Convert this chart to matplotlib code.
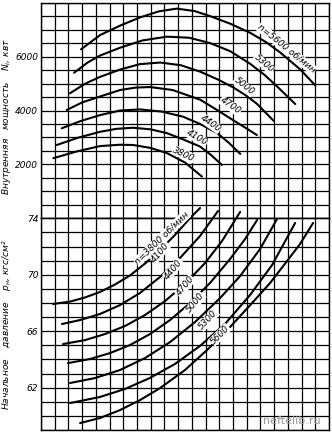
import numpy as np
import matplotlib.pyplot as plt

# x is in grid cells (no scale is printed on the original)
# --- internal power N_i, kW (upper chart)
pw_x_5600 = [2.92, 4.31, 5.77, 7.2, 8.6, 9.9, 11.2, 12.34, 13.8, 15.26, 16.4, 17.45, 18.91, 20.0]
pw_y_5600 = [6270, 6800, 7150, 7450, 7680, 7780, 7690, 7500, 7220, 6880, 6540, 6150, 5520, 4930]
pw_x_5300 = [2.41, 3.4, 4.31, 5.77, 7.4, 9.17, 10.8, 12.34, 13.8, 15.26, 16.3, 17.2, 18.54]
pw_y_5300 = [5400, 5780, 6040, 6330, 6600, 6740, 6700, 6500, 6200, 5730, 5320, 4900, 4240]
pw_x_5000 = [2.12, 3.2, 4.31, 5.77, 7.2, 8.69, 10.2, 11.61, 12.9, 14.04, 15.0, 15.74, 16.96]
pw_y_5000 = [4640, 4990, 5250, 5520, 5720, 5780, 5680, 5440, 5150, 4850, 4540, 4250, 3620]
pw_x_4700 = [1.88, 3.0, 4.31, 5.77, 6.9, 7.96, 9.6, 11.61, 12.9, 14.01, 15.0, 15.74]
pw_y_4700 = [4020, 4300, 4520, 4760, 4850, 4870, 4760, 4400, 4000, 3640, 3330, 3090]
pw_x_4400 = [1.51, 2.9, 4.31, 5.77, 7.23, 8.8, 10.36, 11.6, 12.82, 13.7, 14.53]
pw_y_4400 = [3340, 3610, 3830, 4000, 4040, 3960, 3770, 3500, 3170, 2800, 2390]
pw_x_4100 = [1.15, 2.7, 4.31, 5.5, 6.72, 8.0, 9.18, 10.4, 11.61, 12.4, 13.19]
pw_y_4100 = [2720, 2990, 3210, 3320, 3360, 3300, 3160, 2920, 2660, 2350, 1980]
pw_x_3800 = [0.9, 2.6, 4.31, 5.77, 6.72, 8.0, 9.18, 10.5, 11.73]
pw_y_3800 = [2230, 2480, 2680, 2730, 2720, 2610, 2420, 2070, 1550]

# --- initial pressure p_n, kgf/cm2 (lower chart)
pr_x_3800 = [0.88, 2.12, 3.21, 4.30, 5.40, 6.49, 7.59, 8.68, 9.77, 10.87, 11.60]
pr_y_3800 = [67.93, 68.10, 68.39, 68.78, 69.31, 69.95, 70.80, 71.75, 72.82, 74.02, 74.73]
pr_x_4100 = [1.53, 2.85, 4.30, 5.76, 7.22, 8.68, 10.14, 11.60, 12.91]
pr_y_4100 = [66.51, 66.79, 67.22, 67.85, 68.71, 69.84, 71.19, 72.75, 74.52]
pr_x_4400 = [1.61, 3.21, 4.67, 6.13, 7.59, 9.05, 10.50, 11.96, 13.20, 14.52]
pr_y_4400 = [65.09, 65.37, 65.80, 66.37, 67.15, 68.14, 69.35, 70.83, 72.39, 74.45]
pr_x_4700 = [1.97, 3.57, 5.03, 6.49, 7.95, 9.41, 10.87, 12.33, 13.79, 14.88, 15.76]
pr_y_4700 = [63.74, 64.03, 64.45, 65.02, 65.80, 66.79, 68.00, 69.42, 71.12, 72.53, 73.88]
pr_x_5000 = [2.12, 3.94, 5.76, 7.59, 9.41, 11.23, 13.06, 14.52, 15.97, 17.21]
pr_y_5000 = [62.33, 62.68, 63.25, 64.10, 65.23, 66.65, 68.35, 69.91, 71.82, 73.95]
pr_x_5300 = [2.12, 4.30, 6.13, 7.95, 9.77, 11.60, 13.42, 15.24, 16.85, 18.53]
pr_y_5300 = [60.91, 61.34, 61.91, 62.69, 63.68, 64.96, 66.52, 68.56, 70.69, 73.67]
pr_x_5600 = [2.85, 4.30, 5.76, 7.22, 8.68, 10.50, 12.11, 13.79, 15.46, 16.70, 17.94, 18.89, 19.84]
pr_y_5600 = [59.49, 59.85, 60.41, 61.12, 61.97, 63.25, 64.67, 66.30, 68.07, 69.41, 70.97, 72.18, 73.67]

power_curves = [(pw_x_5600, pw_y_5600), (pw_x_5300, pw_y_5300), (pw_x_5000, pw_y_5000),
                (pw_x_4700, pw_y_4700), (pw_x_4400, pw_y_4400), (pw_x_4100, pw_y_4100),
                (pw_x_3800, pw_y_3800)]
press_curves = [(pr_x_3800, pr_y_3800), (pr_x_4100, pr_y_4100), (pr_x_4400, pr_y_4400),
                (pr_x_4700, pr_y_4700), (pr_x_5000, pr_y_5000), (pr_x_5300, pr_y_5300),
                (pr_x_5600, pr_y_5600)]

# label text, x, y, rotation
power_labels = [("n=5600 об/мин", 17.9, 6300, -39), ("5300", 16.25, 5750, -40),
                ("5000", 14.8, 4900, -38), ("4700", 13.8, 4170, -35),
                ("4400", 12.35, 3520, -35), ("4100", 11.35, 3000, -30),
                ("3800", 10.4, 2380, -25)]
press_labels = [("n=3800 об/мин", 8.8, 72.6, 44), ("4100", 8.7, 71.6, 50),
                ("4400", 9.65, 70.4, 50), ("4700", 10.5, 69.2, 50),
                ("5000", 11.25, 68.0, 50), ("5300", 12.2, 66.8, 47),
                ("5600", 13.05, 65.75, 45)]

W, H = 332, 432
fig = plt.figure(figsize=(W / 100, H / 100), dpi=100)
left, right = 41 / W, 329 / W
ax_top = fig.add_axes([left, (H - 218.3) / H, right - left, (218.3 - 2.7) / H])
ax_bot = fig.add_axes([left, (H - 430) / H, right - left, (430 - 218.3) / H])

for ax in (ax_top, ax_bot):
    ax.set_xlim(0, 21)
    ax.set_xticks(np.arange(0, 22, 1))
    ax.tick_params(axis='x', length=0, labelbottom=False)
    ax.tick_params(axis='y', length=0, pad=2)
    ax.grid(True, which='both', color='black', lw=0.9)
    for s in ax.spines.values():
        s.set_color('black')
        s.set_linewidth(1.0)

ax_top.set_ylim(0, 8000)
ax_top.set_yticks(np.arange(0, 8001, 500))
ax_top.set_yticklabels(['' if v not in (2000, 4000, 6000) else str(v)
                        for v in range(0, 8001, 500)])
ax_bot.set_ylim(59, 74)
ax_bot.set_yticks(np.arange(59, 75, 1))
ax_bot.set_yticklabels([str(v) if v in (62, 66, 70, 74) else '' for v in range(59, 75)])

for ax in (ax_top, ax_bot):
    for lab in ax.get_yticklabels():
        lab.set_fontstyle('italic')
        lab.set_fontsize(6.5)

for xs, ys in power_curves:
    ax_top.plot(xs, ys, color='black', lw=1.5, solid_capstyle='round')
for xs, ys in press_curves:
    ax_bot.plot(xs, ys, color='black', lw=1.5, solid_capstyle='round', clip_on=False)

box = dict(facecolor='white', edgecolor='none', pad=0.3)
for t, x, y, r in power_labels:
    ax_top.text(x, y, t, rotation=r, fontsize=6.5, style='italic', ha='center',
                va='center', rotation_mode='anchor', bbox=box, clip_on=False)
for t, x, y, r in press_labels:
    ax_bot.text(x, y, t, rotation=r, fontsize=6.5, style='italic', ha='center',
                va='center', rotation_mode='anchor', bbox=box, clip_on=False)

fig.text(7 / W, (H - 117) / H, "Внутренняя   мощность    $N_i$, квт", rotation=90,
         fontsize=6.5, style='italic', ha='center', va='center')
fig.text(7 / W, (H - 325) / H, "Начальное    давление    $p_{н}$, кгс/см²", rotation=90,
         fontsize=6.5, style='italic', ha='center', va='center')
fig.text(292 / W, (H - 421) / H, "neftelib.ru", fontsize=8, color='#9a9a9a',
         ha='center', va='center')

fig.savefig("out.png", dpi=100)
